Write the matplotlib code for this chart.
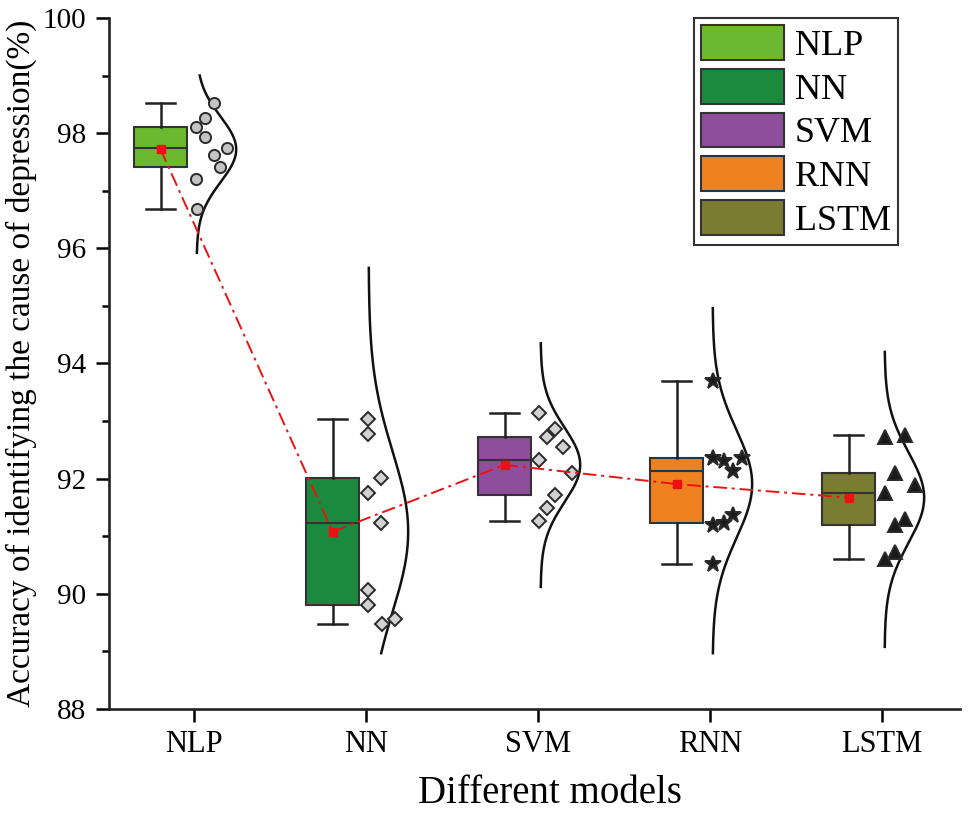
import numpy as np
import matplotlib.pyplot as plt
from matplotlib.patches import Patch

plt.rcParams['font.family'] = ['Liberation Serif', 'DejaVu Serif']

models = ['NLP', 'NN', 'SVM', 'RNN', 'LSTM']
box_colors = ['#6cb92f', '#1c8a3d', '#8f4e9c', '#ef821f', '#7a7c32']

# accuracy values (%)
acc_nlp = [98.52, 98.26, 98.10, 97.93, 97.74, 97.62, 97.41, 97.20, 96.68]
acc_nn = [93.03, 92.77, 92.01, 91.75, 91.23, 90.07, 89.81, 89.48, 89.56]
acc_svm = [93.14, 92.86, 92.72, 92.55, 92.32, 92.10, 91.72, 91.49, 91.26]
acc_rnn = [93.69, 92.36, 92.31, 92.36, 92.13, 91.19, 91.23, 91.37, 90.52]
acc_lstm = [92.72, 92.76, 92.10, 91.89, 91.75, 91.30, 91.19, 90.73, 90.60]

# y range of the normal curve drawn next to each box
curve_lo = [95.92, 88.97, 90.12, 88.97, 89.08]
curve_hi = [99.00, 95.66, 94.35, 94.96, 94.20]

# horizontal jitter of the points (pixels right of the tick)
jit_nlp = [20, 11, 2, 11, 33, 20, 26, 2, 3]
jit_nn = [2, 2, 15, 2, 15, 2, 2, 16, 29]
jit_svm = [1, 17, 9, 25, 1, 34, 17, 9, 1]
jit_rnn = [3, 3, 14, 32, 23, 3, 14, 23, 3]
jit_lstm = [3, 23, 13, 33, 3, 23, 13, 13, 3]

data = [acc_nlp, acc_nn, acc_svm, acc_rnn, acc_lstm]
jitters = [jit_nlp, jit_nn, jit_svm, jit_rnn, jit_lstm]
markers = ['o', 'D', 'D', '*', '^']
msizes = [8, 7.5, 7.5, 12, 10]
mfaces = ['#c4c4c4', '#d2d2d2', '#d2d2d2', '#1a1a1a', '#1a1a1a']

fig = plt.figure(figsize=(9.75, 8.15), dpi=100)
ax = fig.add_axes([0.1118, 0.130, 0.873, 0.848])

pos = np.arange(1, 6)
box_pos = pos - 0.195
px = 1 / 172.0

bp = ax.boxplot(data, positions=box_pos, widths=0.31, patch_artist=True,
                showfliers=False, capwidths=0.165,
                medianprops=dict(color='#333333', lw=1.5),
                whiskerprops=dict(color='#222222', lw=1.8),
                capprops=dict(color='#222222', lw=1.8),
                boxprops=dict(edgecolor='#333333', lw=1.5))
for patch, c in zip(bp['boxes'], box_colors):
    patch.set_facecolor(c)

for i, vals in enumerate(data):
    vals = np.array(vals)
    xs = pos[i] + np.array(jitters[i]) * px
    ax.plot(xs, vals, ls='none', marker=markers[i], ms=msizes[i],
            mfc=mfaces[i], mec='#2a2a2a', mew=1.4, zorder=4)
    m, s = vals.mean(), vals.std(ddof=1)
    yy = np.linspace(curve_lo[i], curve_hi[i], 300)
    xx = pos[i] + 2.5 * px + 0.23 * np.exp(-0.5 * ((yy - m) / s) ** 2)
    ax.plot(xx, yy, color='#111111', lw=1.8, zorder=3)

means = [np.mean(v) for v in data]
ax.plot(box_pos, means, color='#ee1111', lw=1.4, ls=(0, (7, 2.5, 1.5, 2.5)),
        marker='s', ms=6, mfc='#ee1111', mec='#ee1111', zorder=5)

ax.set_xlim(0.505, 5.454)
ax.set_ylim(88, 100)
ax.set_xticks(pos)
ax.set_xticklabels(models)
ax.set_yticks(np.arange(88, 101, 2))
ax.set_yticks(np.arange(89, 100, 2), minor=True)
ax.tick_params(axis='y', which='major', length=9.4, width=1.8, labelsize=21, pad=7)
ax.tick_params(axis='y', which='minor', length=5, width=1.8)
ax.tick_params(axis='x', which='major', length=9.4, width=1.8, labelsize=22, pad=6)
for side in ['top', 'right']:
    ax.spines[side].set_visible(False)
for side in ['left', 'bottom']:
    ax.spines[side].set_linewidth(1.9)
    ax.spines[side].set_color('#222222')

ax.set_ylabel('Accuracy of identifying the cause of depression(%)', fontsize=24)
ax.yaxis.set_label_coords(-0.085, 0.5)
ax.set_xlabel('Different models', fontsize=28)
ax.xaxis.set_label_coords(0.518, -0.095)

handles = [Patch(facecolor=c, edgecolor='#333333', lw=1.5) for c in box_colors]
leg = ax.legend(handles, models, loc='upper right', bbox_to_anchor=(0.927, 1.0),
                fontsize=26, frameon=True, fancybox=False, framealpha=1,
                edgecolor='#333333', handlelength=2.3, handleheight=1.1,
                handletextpad=0.3, labelspacing=0.17, borderpad=0.2,
                borderaxespad=0)
leg.get_frame().set_linewidth(1.5)

fig.savefig('out.png', dpi=100)
